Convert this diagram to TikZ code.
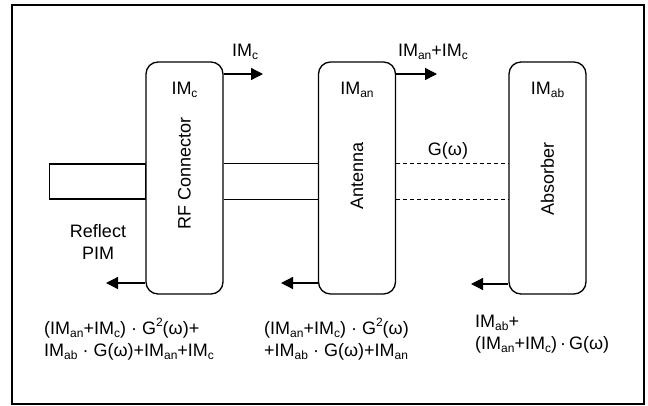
\documentclass[tikz,border=0pt]{standalone}
\usepackage{fontspec}
\setmainfont{Liberation Sans}
\usetikzlibrary{arrows.meta}
% small lowered / raised text for indices
\newcommand{\lo}[1]{\raisebox{-0.35ex}{\fontsize{12}{12}\selectfont #1}}
\newcommand{\hi}[1]{\raisebox{0.85ex}{\fontsize{12}{12}\selectfont #1}}
\begin{document}
\begin{tikzpicture}[x=1pt,y=-1pt,font=\fontsize{18}{22}\selectfont]
\tikzset{
  blk/.style={draw, line width=1.3pt, rounded corners=12pt, minimum width=77pt,
              minimum height=232pt, inner sep=0pt},
  arr/.style={line width=1.3pt, -{Triangle[length=12pt,width=12pt]}},
  lbl/.style={inner sep=0pt},
  feed/.style={line width=1.3pt},
}
\useasboundingbox (0,0) rectangle (648,405);
\draw[line width=1.5pt] (12,5) rectangle (644,404);

% the three blocks
\node[blk] (rf)  at (184.5,178) {};
\node[blk] (ant) at (357,178) {};
\node[blk] (abs) at (547.5,178) {};

\node[lbl] at (rf.center |- 0,90)  {IM\lo{c}};
\node[lbl] at (ant.center |- 0,90) {IM\lo{an}};
\node[lbl] at (abs.center |- 0,90) {IM\lo{ab}};

\node[lbl,rotate=90] at (184.5,173) {RF Connector};
\node[lbl,rotate=90] at (357,176) {Antenna};
\node[lbl,rotate=90] at (547.5,179) {Absorber};

% input stub and transmission line
\node[draw, line width=1.3pt, minimum width=96pt, minimum height=35pt,
      inner sep=0pt, anchor=east] (stub) at (146,181.5) {};
\draw[feed] (rf.east |- stub.north) -- (ant.west |- stub.north);
\draw[feed] (rf.east |- stub.south) -- (ant.west |- stub.south);
\draw[line width=1.5pt, dash pattern=on 4pt off 3pt] (ant.east |- stub.north) -- (abs.west |- stub.north);
\draw[line width=1.1pt, dash pattern=on 4pt off 3pt] (ant.east |- stub.south) -- (abs.west |- stub.south);
\node[lbl] (g) at (448,151) {G(ω)};

% forward PIM
\coordinate (rfR) at (263,74);
\coordinate (antR) at (437,74);
\draw[arr] (rf.east |- rfR) -- (rfR);
\draw[arr] (ant.east |- antR) -- (antR);
\node[lbl] at (245,52) {IM\lo{c}};
\node[lbl] at (433,52) {IM\lo{an}+IM\lo{c}};

% reflected PIM
\coordinate (rfL) at (106,283);
\coordinate (antL) at (281,283);
\coordinate (absL) at (471,284);
\draw[arr] (rf.west |- rfL) -- (rfL);
\draw[arr] (ant.west |- antL) -- (antL);
\draw[arr] (abs.west |- absL) -- (absL);
\node[lbl, align=center] at (98,242) {Reflect\\PIM};

% expressions
\node[lbl, align=left, anchor=north west] at (44,318)
  {(IM\lo{an}+IM\lo{c}) · G\hi{2}(ω)+\\IM\lo{ab} · G(ω)+IM\lo{an}+IM\lo{c}};
\node[lbl, align=left, anchor=north west] at (264,318)
  {(IM\lo{an}+IM\lo{c}) · G\hi{2}(ω)\\+IM\lo{ab} · G(ω)+IM\lo{an}};
\node[lbl, align=left, anchor=north west] at (475,315)
  {IM\lo{ab}+\\(IM\lo{an}+IM\lo{c})\,·\,G(ω)};
\end{tikzpicture}
\end{document}
